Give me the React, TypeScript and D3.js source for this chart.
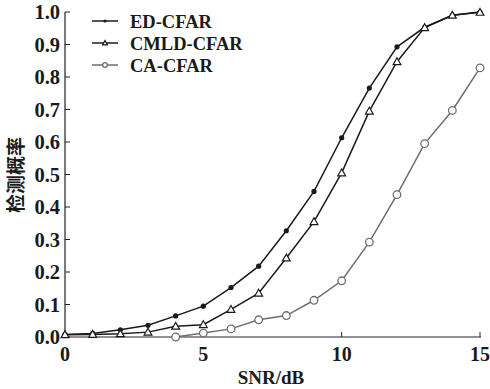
import { useEffect, useRef } from 'react';
import * as d3 from 'd3';

// SNR values (dB)
const snr = [0, 1, 2, 3, 4, 5, 6, 7, 8, 9, 10, 11, 12, 13, 14, 15];

// detection probability per method
const edCfar = [0.008, 0.011, 0.022, 0.036, 0.065, 0.095, 0.152, 0.218, 0.327, 0.448, 0.613, 0.766, 0.893, 0.953, 0.99, 1.0];
const cmldCfar = [0.007, 0.008, 0.01, 0.015, 0.033, 0.038, 0.085, 0.135, 0.243, 0.355, 0.505, 0.695, 0.847, 0.952, 0.99, 0.999];
const caSnr = [4, 5, 6, 7, 8, 9, 10, 11, 12, 13, 14, 15];
const caCfar = [0.0, 0.012, 0.025, 0.053, 0.066, 0.113, 0.173, 0.292, 0.438, 0.595, 0.697, 0.828];

const xTicks = [0, 5, 10, 15];
const yTicks = [0, 0.1, 0.2, 0.3, 0.4, 0.5, 0.6, 0.7, 0.8, 0.9, 1.0];
const seriesNames = ['ED-CFAR', 'CMLD-CFAR', 'CA-CFAR'];

const App = () => {
  const ref = useRef<SVGSVGElement>(null);

  useEffect(() => {
    document.body.style.margin = '0';
    const svg = d3.select(ref.current);
    svg.selectAll('*').remove();

    const font = '"Liberation Serif", "Times New Roman", serif';
    const x = d3.scaleLinear().domain([0, 15]).range([65, 480]);
    const y = d3.scaleLinear().domain([0, 1]).range([337, 12]);

    const line = d3.line<[number, number]>()
      .x(d => x(d[0]))
      .y(d => y(d[1]));

    const series = [
      { name: seriesNames[0], pts: snr.map((s, i) => [s, edCfar[i]] as [number, number]), color: '#1a1a1a', marker: 'dot' },
      { name: seriesNames[1], pts: snr.map((s, i) => [s, cmldCfar[i]] as [number, number]), color: '#1a1a1a', marker: 'tri' },
      { name: seriesNames[2], pts: caSnr.map((s, i) => [s, caCfar[i]] as [number, number]), color: '#6e6e6e', marker: 'ring' },
    ];

    // scale k lets the legend reuse the markers at a smaller size
    const drawMarker = (g: any, kind: string, cx: number, cy: number, color: string, k = 1) => {
      if (kind === 'dot') {
        g.append('circle').attr('cx', cx).attr('cy', cy).attr('r', 2.6 * k).attr('fill', color);
      } else if (kind === 'tri') {
        const s = 3.9 * k;
        g.append('path')
          .attr('d', `M${cx},${cy - s}L${cx + s},${cy + s * 0.75}L${cx - s},${cy + s * 0.75}Z`)
          .attr('fill', 'white').attr('stroke', color).attr('stroke-width', 1.2);
      } else {
        g.append('circle').attr('cx', cx).attr('cy', cy).attr('r', 3.8 * k)
          .attr('fill', 'white').attr('stroke', color).attr('stroke-width', 1.3);
      }
    };

    // axes
    const axisColor = '#222';
    svg.append('line').attr('x1', 65).attr('x2', 65).attr('y1', 12).attr('y2', 337)
      .attr('stroke', axisColor).attr('stroke-width', 1.2);
    svg.append('line').attr('x1', 65).attr('x2', 481).attr('y1', 337).attr('y2', 337)
      .attr('stroke', axisColor).attr('stroke-width', 1.2);

    yTicks.forEach(t => {
      svg.append('line').attr('x1', 65).attr('x2', 70).attr('y1', y(t)).attr('y2', y(t))
        .attr('stroke', axisColor).attr('stroke-width', 1);
      svg.append('text').attr('x', 60).attr('y', y(t) + 7)
        .attr('text-anchor', 'end')
        .style('font-family', font).style('font-weight', 'bold').style('font-size', '20.5px')
        .attr('fill', '#1a1a1a')
        .text(t.toFixed(1));
    });

    xTicks.forEach(t => {
      svg.append('line').attr('x1', x(t)).attr('x2', x(t)).attr('y1', 337).attr('y2', 332)
        .attr('stroke', axisColor).attr('stroke-width', 1);
      svg.append('text').attr('x', x(t)).attr('y', 361)
        .attr('text-anchor', 'middle')
        .style('font-family', font).style('font-weight', 'bold').style('font-size', '20px')
        .attr('fill', '#1a1a1a')
        .text(t);
    });

    svg.append('text').attr('x', 271).attr('y', 384)
      .attr('text-anchor', 'middle')
      .style('font-family', font).style('font-weight', 'bold').style('font-size', '19px')
      .attr('fill', '#1a1a1a')
      .text('SNR/dB');

    svg.append('text')
      .attr('transform', 'translate(23,175) rotate(-90)')
      .attr('text-anchor', 'middle')
      .style('font-family', '"Noto Sans CJK SC", sans-serif').style('font-weight', 'bold').style('font-size', '19px')
      .attr('fill', '#1a1a1a')
      .text('检测概率');

    // series lines + markers
    series.forEach(s => {
      svg.append('path').attr('d', line(s.pts))
        .attr('fill', 'none').attr('stroke', s.color).attr('stroke-width', 1.5);
    });
    series.forEach(s => {
      const g = svg.append('g');
      s.pts.forEach(p => drawMarker(g, s.marker, x(p[0]), y(p[1]), s.color));
    });

    // legend
    const legend = svg.append('g');
    series.forEach((s, i) => {
      const ly = 21 + i * 22;
      legend.append('line').attr('x1', 92).attr('x2', 118).attr('y1', ly).attr('y2', ly)
        .attr('stroke', s.color).attr('stroke-width', 1.5);
      drawMarker(legend, s.marker, 105, ly, s.color, 0.62);
      legend.append('text').attr('x', 130).attr('y', ly + 6.5)
        .style('font-family', font).style('font-weight', 'bold').style('font-size', '18.5px')
        .attr('fill', '#1a1a1a')
        .attr('textLength', null)
        .text(s.name);
    });
  }, []);

  return <svg ref={ref} width={490} height={389} style={{ display: 'block', background: 'white' }} />;
};

export default App;
